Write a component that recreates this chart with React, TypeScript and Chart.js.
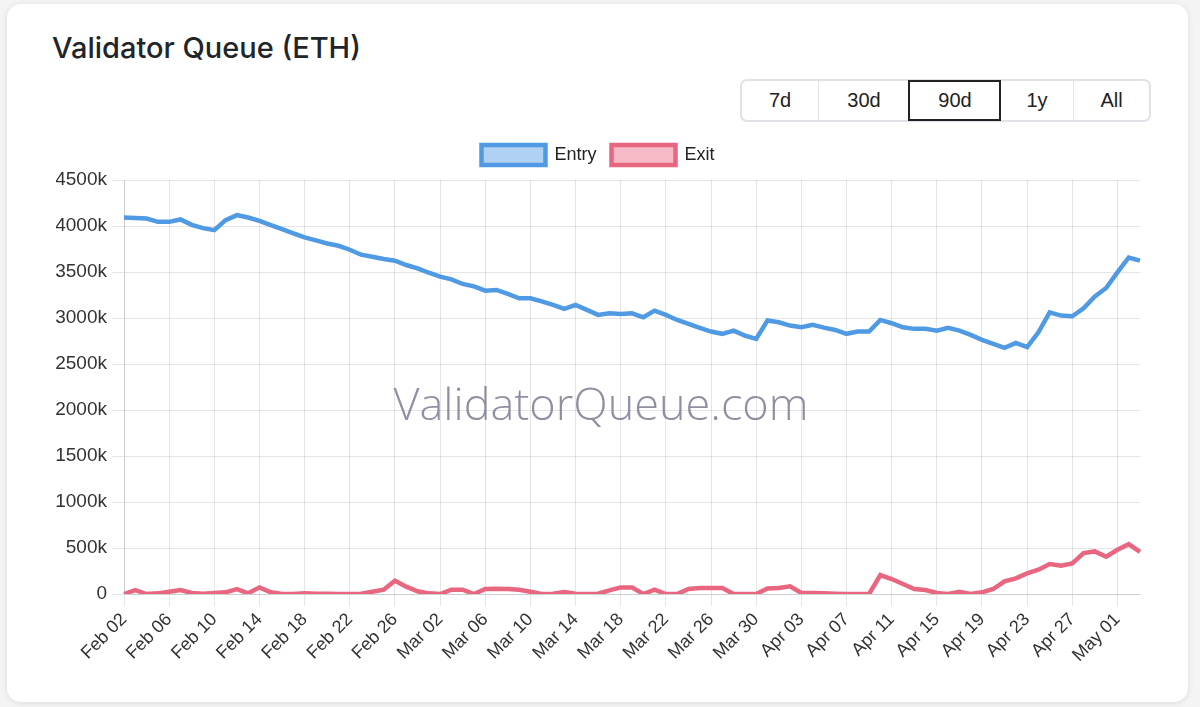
import React, { useEffect, useRef } from "react";
import { Chart, registerables } from "chart.js";

Chart.register(...registerables);

const LABELS = [
  "Feb 02", "Feb 03", "Feb 04", "Feb 05", "Feb 06", "Feb 07", "Feb 08", "Feb 09", "Feb 10", "Feb 11",
  "Feb 12", "Feb 13", "Feb 14", "Feb 15", "Feb 16", "Feb 17", "Feb 18", "Feb 19", "Feb 20", "Feb 21",
  "Feb 22", "Feb 23", "Feb 24", "Feb 25", "Feb 26", "Feb 27", "Feb 28", "Mar 01", "Mar 02", "Mar 03",
  "Mar 04", "Mar 05", "Mar 06", "Mar 07", "Mar 08", "Mar 09", "Mar 10", "Mar 11", "Mar 12", "Mar 13",
  "Mar 14", "Mar 15", "Mar 16", "Mar 17", "Mar 18", "Mar 19", "Mar 20", "Mar 21", "Mar 22", "Mar 23",
  "Mar 24", "Mar 25", "Mar 26", "Mar 27", "Mar 28", "Mar 29", "Mar 30", "Mar 31", "Apr 01", "Apr 02",
  "Apr 03", "Apr 04", "Apr 05", "Apr 06", "Apr 07", "Apr 08", "Apr 09", "Apr 10", "Apr 11", "Apr 12",
  "Apr 13", "Apr 14", "Apr 15", "Apr 16", "Apr 17", "Apr 18", "Apr 19", "Apr 20", "Apr 21", "Apr 22",
  "Apr 23", "Apr 24", "Apr 25", "Apr 26", "Apr 27", "Apr 28", "Apr 29", "Apr 30", "May 01", "May 02",
  "May 03",
];

// values in thousands of ETH
const ENTRY = [
  4092, 4087, 4081, 4045, 4045, 4071, 4013, 3977, 3955, 4064,
  4118, 4092, 4056, 4010, 3965, 3919, 3876, 3843, 3810, 3785,
  3742, 3688, 3666, 3641, 3623, 3576, 3540, 3492, 3449, 3420,
  3370, 3344, 3297, 3305, 3261, 3214, 3214, 3181, 3142, 3099,
  3142, 3088, 3034, 3051, 3044, 3051, 3008, 3080, 3034, 2979,
  2936, 2893, 2853, 2828, 2863, 2809, 2773, 2972, 2953, 2918,
  2899, 2925, 2895, 2870, 2828, 2853, 2853, 2979, 2943, 2899,
  2882, 2882, 2863, 2893, 2863, 2817, 2763, 2719, 2676, 2730,
  2683, 2845, 3062, 3026, 3019, 3105, 3235, 3326, 3496, 3658,
  3623,
];

const EXIT = [
  0, 43, 0, 7, 25, 43, 11, 4, 11, 18,
  54, 7, 72, 18, 0, 0, 7, 4, 2, 0,
  0, 2, 25, 47, 145, 80, 29, 7, 0, 47,
  47, 0, 54, 58, 54, 47, 25, 0, 4, 22,
  4, 0, 4, 40, 72, 72, 0, 47, 0, 0,
  54, 65, 65, 65, 0, 0, 0, 61, 65, 83,
  11, 11, 7, 4, 0, 0, 0, 206, 163, 108,
  54, 43, 11, 0, 25, 0, 18, 54, 137, 170,
  224, 264, 325, 307, 333, 445, 463, 405, 481, 542,
  459,
];

const Y_MAX = 4500;
const Y_STEP = 500;
const LABEL_EVERY = 4;
const RANGES = ["7d", "30d", "90d", "1y", "All"];
const RANGE_WIDTHS = [76, 91, 91, 73, 76];
const ACTIVE_RANGE = "90d";

const ENTRY_COLOR = "rgb(80,154,228)";
const ENTRY_FILL = "rgba(80,154,228,0.45)";
const EXIT_COLOR = "rgb(233,102,128)";
const EXIT_FILL = "rgba(233,102,128,0.45)";

const FONT = "'Liberation Sans', Arial, Helvetica, sans-serif";

const watermarkPlugin = {
  id: "watermark",
  beforeDatasetsDraw(chart: any) {
    const ctx = chart.ctx;
    const a = chart.chartArea;
    ctx.save();
    ctx.font = "300 45px 'Open Sans', sans-serif";
    ctx.fillStyle = "rgba(122,124,145,0.85)";
    ctx.textAlign = "center";
    ctx.textBaseline = "middle";
    ctx.fillText("ValidatorQueue.com", (a.left + a.right) / 2 - 31, (a.top + a.bottom) / 2 + 20);
    ctx.restore();
  },
};

const legendGapPlugin = {
  id: "legendGap",
  beforeInit(chart: any) {
    const legend = chart.legend;
    if (!legend) return;
    const orig = legend.fit;
    legend.fit = function () {
      orig.call(legend);
      legend.height += 5;
    };
  },
};

function ValidatorChart() {
  const ref = useRef<HTMLCanvasElement | null>(null);
  useEffect(() => {
    if (!ref.current) return;
    const chart = new Chart(ref.current, {
      type: "line",
      data: {
        labels: LABELS,
        datasets: [
          {
            label: "Entry",
            data: ENTRY,
            borderColor: ENTRY_COLOR,
            backgroundColor: ENTRY_FILL,
            borderWidth: 4.5,
            pointRadius: 0,
            tension: 0,
          },
          {
            label: "Exit",
            data: EXIT,
            borderColor: EXIT_COLOR,
            backgroundColor: EXIT_FILL,
            borderWidth: 4.5,
            pointRadius: 0,
            tension: 0,
          },
        ],
      },
      options: {
        animation: false,
        responsive: true,
        maintainAspectRatio: false,
        layout: { padding: { right: 30, top: 0, left: 0, bottom: 0 } },
        plugins: {
          legend: {
            position: "top",
            labels: {
              boxWidth: 64,
              boxHeight: 20,
              padding: 15,
              color: "#222",
              font: { size: 18, family: FONT },
            },
          },
          tooltip: { enabled: false },
        },
        scales: {
          x: {
            grid: {
              color: (c: any) => (c.index % LABEL_EVERY === 0 ? "rgba(0,0,0,0.1)" : "rgba(0,0,0,0)"),
              tickLength: 12,
            },
            ticks: {
              autoSkip: false,
              maxRotation: 45,
              minRotation: 45,
              color: "#333",
              font: { size: 18, family: FONT },
              callback: function (this: any, v: any, i: number) {
                return i % LABEL_EVERY === 0 ? this.getLabelForValue(v) : "";
              },
            },
            afterFit: (s: any) => {
              s.height = 106;
            },
          },
          y: {
            min: 0,
            max: Y_MAX,
            grid: { tickLength: 12, color: "rgba(0,0,0,0.1)" },
            ticks: {
              stepSize: Y_STEP,
              padding: 5,
              color: "#333",
              font: { size: 19, family: FONT },
              callback: (v: any) => (v === 0 ? "0" : v + "k"),
            },
            afterFit: (s: any) => {
              s.width = 68;
            },
          },
        },
      },
      plugins: [legendGapPlugin, watermarkPlugin],
    });
    return () => chart.destroy();
  }, []);
  return <canvas ref={ref} />;
}

export default function App() {
  return (
    <div
      style={{
        position: "fixed",
        left: 0,
        top: 0,
        width: 1200,
        height: 707,
        background: "#f4f4f5",
        fontFamily: FONT,
        overflow: "hidden",
      }}
    >
      <div
        style={{
          position: "absolute",
          left: 7,
          top: 4,
          width: 1181,
          height: 698,
          background: "#fff",
          borderRadius: 14,
          boxShadow: "0 1px 6px rgba(0,0,0,0.10)",
        }}
      />
      <div
        style={{
          position: "absolute",
          left: 52,
          top: 31,
          fontFamily: "Inter, 'Liberation Sans', sans-serif",
          fontWeight: 500,
          fontSize: 29,
          lineHeight: "34px",
          color: "#212529",
          whiteSpace: "nowrap",
        }}
      >
        Validator Queue (ETH)
      </div>
      <div
        style={{
          position: "absolute",
          left: 740,
          top: 79,
          height: 43,
          display: "flex",
          border: "2px solid #dfe2e6",
          borderRadius: 7,
          boxSizing: "border-box",
          overflow: "visible",
        }}
      >
        {RANGES.map((r, i) => {
          const active = r === ACTIVE_RANGE;
          return (
            <div
              key={r}
              style={{
                width: RANGE_WIDTHS[i],
                height: 39,
                boxSizing: "border-box",
                display: "flex",
                alignItems: "center",
                justifyContent: "center",
                fontSize: 20,
                color: "#222",
                borderLeft: i === 0 ? "none" : "1px solid #e3e5e8",
                outline: active ? "2px solid #222" : "none",
                outlineOffset: -1,
                position: "relative",
                zIndex: active ? 1 : 0,
              }}
            >
              {r}
            </div>
          );
        })}
      </div>
      <div style={{ position: "absolute", left: 56, top: 130, width: 1114, height: 570 }}>
        <ValidatorChart />
      </div>
    </div>
  );
}
